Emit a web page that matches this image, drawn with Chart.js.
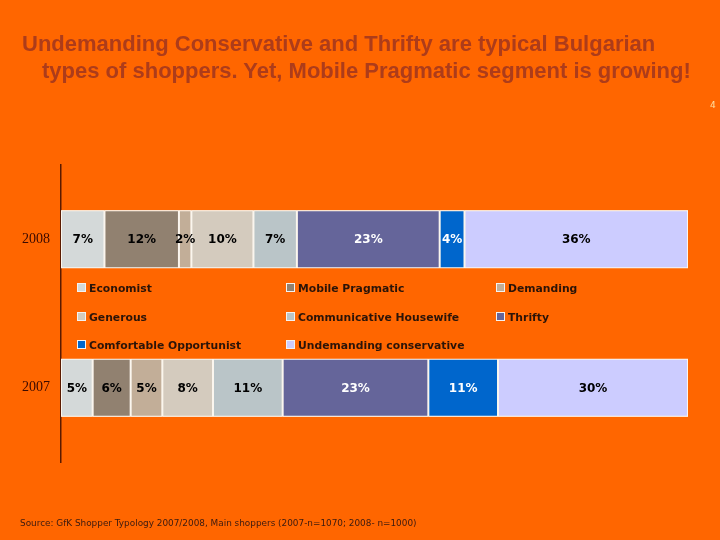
<!DOCTYPE html>
<html>
<head>
<meta charset="utf-8">
<script src="https://cdn.jsdelivr.net/npm/chart.js@4.4.1/dist/chart.umd.min.js"></script>
<style>
  body { margin: 0; background: #ff6600; }
  #wrap { position: relative; width: 720px; height: 540px; background: #ff6600; overflow: hidden; }
  canvas { position: absolute; left: 0; top: 0; }
  .title { position: absolute; font-family: "Liberation Sans", Arial, sans-serif; font-weight: bold; font-size: 22px; color: #ad3c1a; white-space: nowrap; }
  .legend-item { position: absolute; font-family: Verdana, "DejaVu Sans", sans-serif; font-weight: bold; font-size: 10.8px; color: #2b1408; white-space: nowrap; line-height: 12px; }
  .legend-item span.sw { display: inline-block; width: 7px; height: 7px; border: 1px solid #f2f2f2; margin-right: 3px; vertical-align: 0px; }
  #source { position: absolute; left: 20px; top: 518px; font-family: Tahoma, "DejaVu Sans", sans-serif; font-size: 8.9px; color: #3a1a10; white-space: nowrap; }
  #page { position: absolute; left: 710px; top: 100px; font-family: Verdana, "DejaVu Sans", sans-serif; font-size: 9px; color: #ffe0a0; }
</style>
</head>
<body>
<div id="wrap">
  <canvas id="shopperChart" width="720" height="540"></canvas>
  <div class="title" style="left:22px; top:31px;">Undemanding Conservative and Thrifty are typical Bulgarian</div>
  <div class="title" style="left:42px; top:58px;">types of shoppers. Yet, Mobile Pragmatic segment is growing!</div>
  <div id="page">4</div>
  <div id="legend"></div>
  <div id="source">Source: GfK Shopper Typology 2007/2008, Main shoppers (2007-n=1070; 2008- n=1000)</div>
</div>
<script>
// data
const years = ["2008", "2007"];
const segments = [
  "Economist",
  "Mobile Pragmatic",
  "Demanding",
  "Generous",
  "Communicative Housewife",
  "Thrifty",
  "Comfortable Opportunist",
  "Undemanding conservative",
];
const values2008 = [7, 12, 2, 10, 7, 23, 4, 36];
const values2007 = [5, 6, 5, 8, 11, 23, 11, 30];
const segmentColors = [
  "#d4d9d9",
  "#918170",
  "#c2ae98",
  "#d4cbbe",
  "#bac5c8",
  "#65659a",
  "#0066cc",
  "#ccccff",
];
const labelColors = ["#000", "#000", "#000", "#000", "#000", "#fff", "#fff", "#000"];

// 100% stacked: each bar fills the full width
const sum2008 = values2008.reduce((a, b) => a + b, 0);
const sum2007 = values2007.reduce((a, b) => a + b, 0);

const datasets = segments.map((name, i) => ({
  label: name,
  data: [(values2008[i] / sum2008) * 100, (values2007[i] / sum2007) * 100],
  raw: [values2008[i], values2007[i]],
  backgroundColor: segmentColors[i],
  borderColor: "#fbf6ee",
  borderWidth: 1,
  borderSkipped: false,
  categoryPercentage: 1,
  barPercentage: 0.39,
}));

// white backing under each stacked bar so segment seams stay white
const barBacking = {
  id: "barBacking",
  beforeDatasetsDraw(chart) {
    const ctx = chart.ctx;
    const first = chart.getDatasetMeta(0).data;
    const last = chart.getDatasetMeta(chart.data.datasets.length - 1).data;
    ctx.save();
    ctx.fillStyle = "#fbf6ee";
    first.forEach((bar, j) => {
      const x0 = Math.min(bar.base, bar.x);
      const x1 = last[j].x;
      ctx.fillRect(x0, bar.y - bar.height / 2, x1 - x0, bar.height);
    });
    ctx.restore();
  },
};

// percent labels inside the segments
const valueLabels = {
  id: "valueLabels",
  afterDatasetsDraw(chart) {
    const ctx = chart.ctx;
    ctx.save();
    ctx.font = "bold 12px Verdana, 'DejaVu Sans', sans-serif";
    ctx.textAlign = "center";
    ctx.textBaseline = "middle";
    chart.data.datasets.forEach((ds, i) => {
      const meta = chart.getDatasetMeta(i);
      meta.data.forEach((bar, j) => {
        ctx.fillStyle = labelColors[i];
        ctx.fillText(ds.raw[j] + "%", (bar.x + bar.base) / 2, bar.y + 1);
      });
    });
    ctx.restore();
  },
};

new Chart(document.getElementById("shopperChart"), {
  type: "bar",
  data: { labels: years, datasets: datasets },
  options: {
    indexAxis: "y",
    responsive: false,
    animation: false,
    layout: { padding: { left: 0, top: 165, right: 32, bottom: 78 } },
    plugins: { legend: { display: false }, tooltip: { enabled: false } },
    scales: {
      x: { stacked: true, display: false, min: 0, max: 100 },
      y: {
        stacked: true,
        grid: { display: false },
        border: { display: true, color: "#5a1a00", width: 1.5 },
        ticks: {
          color: "#3a0a00",
          font: { family: "'Liberation Serif', 'Times New Roman', serif", size: 14 },
          padding: 3,
        },
        afterFit(scale) {
          scale.width = 61;
        },
      },
    },
  },
  plugins: [barBacking, valueLabels],
});

// legend between the bars (3 columns, row by row)
const legendBox = document.getElementById("legend");
const colX = [77, 286, 496];
const rowY = [283, 312, 340];
segments.forEach((name, i) => {
  const item = document.createElement("div");
  item.className = "legend-item";
  item.style.left = colX[i % 3] + "px";
  item.style.top = rowY[Math.floor(i / 3)] + "px";
  item.innerHTML = '<span class="sw" style="background:' + segmentColors[i] + '"></span>' + name;
  legendBox.appendChild(item);
});
</script>
</body>
</html>
